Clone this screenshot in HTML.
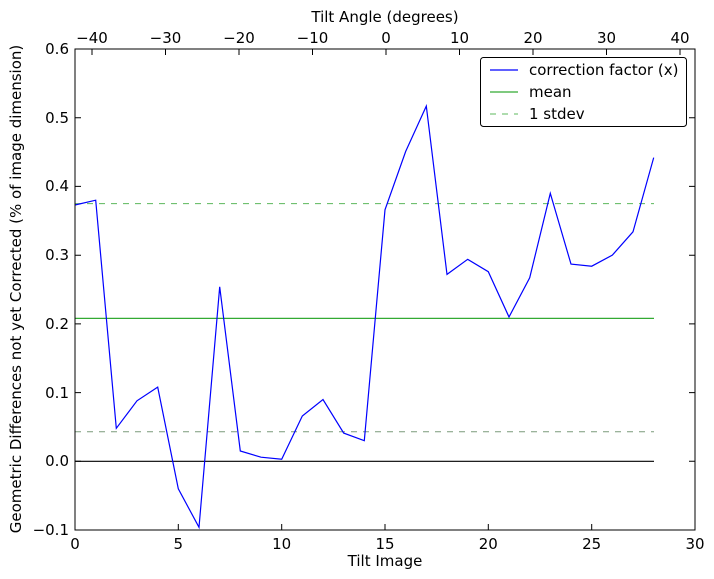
<!DOCTYPE html>
<html><head><style>body{margin:0;background:#fff}svg{display:block}text{font-family:"DejaVu Sans","Liberation Sans",sans-serif;font-size:15px;fill:#000}</style></head><body>
<svg width="714" height="579" xmlns="http://www.w3.org/2000/svg">
<rect width="714" height="579" fill="#fff"/>
<line x1="75" y1="203.6" x2="654" y2="203.6" stroke="#5cb85c" stroke-dasharray="6,6" stroke-width="1"/>
<line x1="75" y1="431.8" x2="654" y2="431.8" stroke="#7a9a7a" stroke-dasharray="6,6" stroke-width="1"/>
<line x1="75" y1="318.4" x2="654" y2="318.4" stroke="#3a3" stroke-width="1.2"/>
<line x1="75" y1="461.3" x2="654" y2="461.3" stroke="#000" stroke-width="1.2"/>
<polyline fill="none" stroke="#00f" stroke-width="1.2" points="75,205 95.7,200.2 116.3,428.3 137,400.8 157.7,387.1 178.3,488.8 199,527.3 219.7,286.8 240.3,451 261,457.2 281.7,459.2 302.3,416 323,399.5 343.7,433.1 364.3,440.7 385,209.8 405.7,151.4 426.3,106.1 447,274.4 467.7,259.3 488.3,271.7 509,317 529.7,277.8 550.3,193.3 571,264.1 591.7,266.2 612.3,255.2 633,231.8 653.7,157.6"/>
<rect x="75" y="49" width="620" height="481" fill="none" stroke="#000" stroke-width="1"/>
<g stroke="#000" stroke-width="1">
<path d="M75 49h6M75 117.7h6M75 186.4h6M75 255.2h6M75 323.9h6M75 392.6h6M75 461.3h6M689 49h6M689 117.7h6M689 186.4h6M689 255.2h6M689 323.9h6M689 392.6h6M689 461.3h6"/>
<path d="M178.3 530v-6M281.7 530v-6M385 530v-6M488.3 530v-6M591.7 530v-6"/>
<path d="M92 49v6M165.5 49v6M239 49v6M312.5 49v6M386 49v6M459.5 49v6M533 49v6M606.5 49v6M680 49v6"/>
</g>
<g text-anchor="end">
<text x="69" y="54">0.6</text><text x="69" y="123">0.5</text><text x="69" y="191">0.4</text><text x="69" y="260">0.3</text><text x="69" y="329">0.2</text><text x="69" y="398">0.1</text><text x="69" y="466">0.0</text><text x="69" y="535">−0.1</text>
</g>
<g text-anchor="middle">
<text x="75" y="549">0</text><text x="178.3" y="549">5</text><text x="281.7" y="549">10</text><text x="385" y="549">15</text><text x="488.3" y="549">20</text><text x="591.7" y="549">25</text><text x="695" y="549">30</text>
<text x="92" y="43">−40</text><text x="165.5" y="43">−30</text><text x="239" y="43">−20</text><text x="312.5" y="43">−10</text><text x="386" y="43">0</text><text x="459.5" y="43">10</text><text x="533" y="43">20</text><text x="606.5" y="43">30</text><text x="680" y="43">40</text>
<text x="385" y="566">Tilt Image</text>
<text x="385" y="22">Tilt Angle (degrees)</text>
<text transform="translate(21,289) rotate(-90)">Geometric Differences not yet Corrected (% of image dimension)</text>
</g>
<rect x="480.5" y="57.5" width="206" height="69" fill="#fff" stroke="#000" rx="3"/>
<line x1="490" y1="70" x2="518" y2="70" stroke="#00f" stroke-width="1.2"/>
<line x1="490" y1="92" x2="518" y2="92" stroke="#3a3" stroke-width="1.2"/>
<line x1="490" y1="114" x2="518" y2="114" stroke="#5cb85c" stroke-dasharray="6,6"/>
<text x="529" y="75">correction factor (x)</text>
<text x="529" y="97">mean</text>
<text x="529" y="119">1 stdev</text>
</svg>
</body></html>
